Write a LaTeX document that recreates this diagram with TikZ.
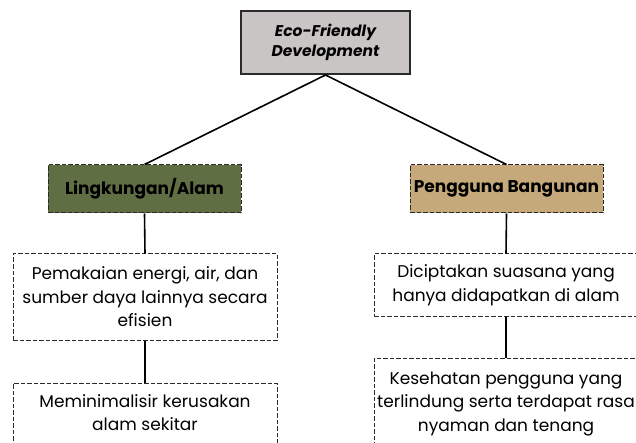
\documentclass[tikz,border=0pt]{standalone}
\usepackage{fontspec}
\setmainfont{Poppins}
\definecolor{topfill}{HTML}{C9C5C4}
\definecolor{greenfill}{HTML}{5F6F43}
\definecolor{tanfill}{HTML}{C6A97A}
\definecolor{edge}{HTML}{2A2A2A}
\begin{document}
\begin{tikzpicture}[x=1pt,y=-1pt,
  topbox/.style={draw=edge,line width=2pt,fill=topfill,minimum width=169pt,minimum height=63pt,align=center,inner sep=0pt,font=\fontsize{15.5}{20}\selectfont\bfseries\itshape},
  catbox/.style={draw=edge,dash pattern=on 4.5pt off 2pt,line width=1pt,minimum height=48pt,inner sep=0pt,font=\fontsize{17}{20}\selectfont\bfseries},
  itembox/.style={draw=edge,dash pattern=on 4.5pt off 2pt,line width=1pt,fill=white,minimum width=264pt,align=center,inner xsep=0pt,font=\fontsize{17}{23.5}\selectfont},
  link/.style={draw=black,line width=1.6pt}]
\useasboundingbox (0,0) rectangle (636,443);
\clip (0,0) rectangle (636,443);
\node[topbox] (top) at (325.5,42.5) {Eco-Friendly\\Development};
\node[catbox,fill=greenfill,minimum width=193pt] (env) at (144.5,189) {Lingkungan/Alam};
\node[catbox,fill=tanfill,minimum width=193pt] (user) at (506.5,189) {Pengguna Bangunan};
\node[itembox,minimum height=86pt,inner ysep=0pt] (e1) at (145,297) {Pemakaian energi, air, dan\\sumber daya lainnya secara\\efisien};
\node[itembox,anchor=north,inner ysep=11pt] (e2) at (145,383) {Meminimalisir kerusakan\\alam sekitar\\[20pt]};
\node[itembox,minimum height=62pt,inner ysep=0pt] (u1) at (506,285) {Diciptakan suasana yang\\hanya didapatkan di alam};
\node[itembox,anchor=north,inner ysep=13pt] (u2) at (506,358) {Kesehatan pengguna yang\\terlindung serta terdapat rasa\\nyaman dan tenang};
\draw[link] (top.south) -- (env.north);
\draw[link] (top.south) -- (user.north);
\draw[link] (env.south) -- (e1.north);
\draw[link] (e1.south) -- (e2.north);
\draw[link] (user.south) -- (u1.north);
\draw[link] (u1.south) -- (u2.north);
\end{tikzpicture}
\end{document}
